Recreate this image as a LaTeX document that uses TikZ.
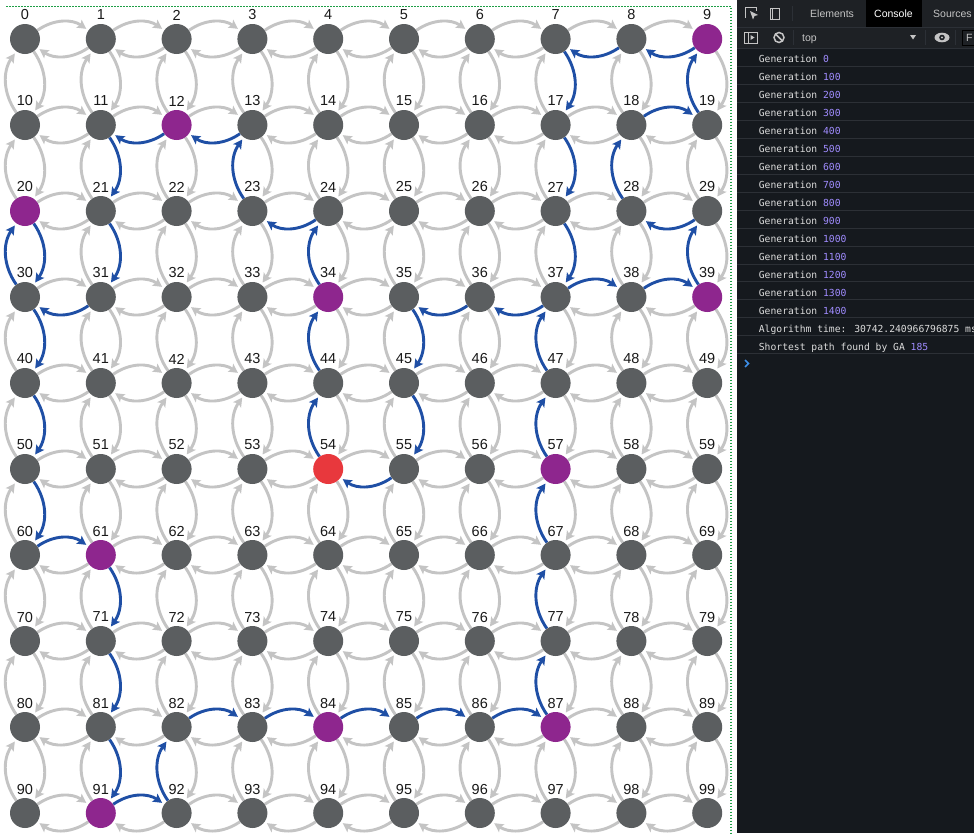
\documentclass[tikz,border=0pt]{standalone}
\usepackage{fontspec}
\setmainfont{Liberation Sans}
\newfontfamily\consolefont{DejaVu Sans Mono}
\usetikzlibrary{arrows.meta}
\pgfdeclarelayer{background}
\pgfdeclarelayer{edges}
\pgfsetlayers{background,edges,main}

\definecolor{nodegray}{HTML}{5B5E60}
\definecolor{nodepurple}{HTML}{8E268E}
\definecolor{nodered}{HTML}{E8383D}
\definecolor{arrgray}{HTML}{C4C4C4}
\definecolor{pathblue}{HTML}{1F4FA5}
\definecolor{frameGreen}{HTML}{1E9E46}
\definecolor{panelbg}{HTML}{15191E}
\definecolor{barbg}{HTML}{1E2125}
\definecolor{sepline}{HTML}{2C3036}
\definecolor{contxt}{HTML}{DCDCDC}
\definecolor{connum}{HTML}{A08CFF}
\definecolor{tabtxt}{HTML}{C4C4C4}
\definecolor{promptblue}{HTML}{3D8FE8}

\def\bluelist{55/54,45/55,35/45,36/35,37/36,47/37,57/47,67/57,77/67,87/77,86/87,85/86,84/85,83/84,82/83,92/82,91/92,81/91,71/81,61/71,60/61,50/60,40/50,30/40,20/30,30/20,31/30,21/31,11/21,12/11,13/12,23/13,24/23,34/24,44/34,54/44,27/37,17/27,7/17,8/7,9/8,19/9,18/19,28/18,29/28,39/29,38/39,37/38}

\begin{document}
\begin{tikzpicture}[x=1pt,y=-1pt,
  vtx/.style={circle,fill=nodegray,minimum size=30pt,inner sep=0pt},
  c9/.style={fill=nodepurple},c12/.style={fill=nodepurple},c20/.style={fill=nodepurple},
  c34/.style={fill=nodepurple},c39/.style={fill=nodepurple},c57/.style={fill=nodepurple},
  c61/.style={fill=nodepurple},c84/.style={fill=nodepurple},c87/.style={fill=nodepurple},
  c91/.style={fill=nodepurple},c54/.style={fill=nodered},
  lbl/.style={inner sep=0pt,font=\fontsize{14.5}{14.5}\selectfont,text=black!90},
  garr/.style={draw=arrgray,line width=2.9pt,-{Stealth[length=9pt,width=9.5pt,inset=2pt]},shorten >=2.5pt,bend left=35},
  barr/.style={garr,draw=pathblue},
  ctext/.style={anchor=base west,inner sep=0pt,text=contxt,font=\consolefont\fontsize{9.7}{10}\selectfont},
  ttext/.style={anchor=base west,inner sep=0pt,text=tabtxt,font=\fontsize{10.5}{11}\selectfont},
  icon/.style={draw=tabtxt,line width=1pt}
]
\useasboundingbox (0,0) rectangle (974,833);
\begin{pgfonlayer}{background}
\fill[white] (0,0) rectangle (974,833);
\end{pgfonlayer}

% grid nodes and labels
\foreach \r in {0,...,9}{
  \foreach \c in {0,...,9}{
    \pgfmathtruncatemacro\n{10*\r+\c}
    \pgfmathsetmacro\x{25+75.8*\c}
    \pgfmathsetmacro\y{39+86*\r}
    \node[vtx,c\n/.try] (n\n) at (\x,\y) {};
    \node[lbl] (l\n) at (\x,\y-24) {\n};
  }
}

\foreach \a/\b in \bluelist {\expandafter\gdef\csname skip\a-\b\endcsname{}}

\begin{pgfonlayer}{edges}
\foreach \r in {0,...,9}{
  \foreach \c in {0,...,9}{
    \pgfmathtruncatemacro\n{10*\r+\c}
    \pgfmathtruncatemacro\e{\n+1}
    \pgfmathtruncatemacro\s{\n+10}
    \ifnum\c<9\relax
      \ifcsname skip\n-\e\endcsname\else\draw[garr] (n\n) to (n\e);\fi
      \ifcsname skip\e-\n\endcsname\else\draw[garr] (n\e) to (n\n);\fi
    \fi
    \ifnum\r<9\relax
      \ifcsname skip\n-\s\endcsname\else\draw[garr] (n\n) to (n\s);\fi
      \ifcsname skip\s-\n\endcsname\else\draw[garr] (n\s) to (n\n);\fi
    \fi
  }
}
\foreach \a/\b in \bluelist {\draw[barr] (n\a) to (n\b);}
\end{pgfonlayer}

% frame
\draw[frameGreen,line width=1.7pt,dash pattern=on 1.5pt off 1.5pt] (6,6.5) -- (731,6.5) -- (731,833);

% console panel
\begin{scope}
\clip (737,0) rectangle (974,833);
\fill[panelbg] (737,0) rectangle (974,833);
\fill[barbg] (737,0) rectangle (974,48.5);
\draw[sepline,line width=1pt] (737,27) -- (974,27);
\fill[black] (866,0) rectangle (922,27);
% tab bar icons
\draw[icon] (745,18) -- (745,7) -- (756,7) -- (756,11);
\fill[tabtxt] (750,11) -- (758,15) -- (754.5,16) -- (753,19.5) -- cycle;
\draw[icon] (770,8) rectangle (779,19);
\draw[icon] (772,8) -- (772,19);
\draw[sepline,line width=1pt] (792,6) -- (792,21);
\node[ttext] (tabEl) at (810,17.3) {Elements};
\node[ttext,text=white] (tabCo) at (874,17.3) {Console};
\node[ttext] (tabSo) at (933,17.3) {Sources};
% toolbar
\draw[icon] (744,32) rectangle (757,43);
\draw[icon] (748,32) -- (748,43);
\fill[tabtxt] (750.5,35) -- (754.5,37.5) -- (750.5,40) -- cycle;
\draw[icon,line width=1.5pt] (779,37.5) circle (5);
\draw[icon,line width=1.5pt] (775.5,34) -- (782.5,41);
\draw[sepline,line width=1pt] (793,30) -- (793,45);
\node[ttext] (topTxt) at (802,41) {top};
\fill[tabtxt] (910,35) -- (916,35) -- (913,39.5) -- cycle;
\draw[sepline,line width=1pt] (925,30) -- (925,45);
\fill[tabtxt] (942,37.5) ellipse (7.5 and 4.8);
\fill[barbg] (942,37.5) circle (2.8);
\fill[tabtxt] (942,37.5) circle (1.2);
\draw[sepline,line width=1pt] (955,30) -- (955,45);
\draw[icon,draw=sepline!150] (962,30) rectangle (985,45);
\node[ttext] (fTxt) at (966,41) {F};
% console lines
\foreach \k in {0,...,17} {\draw[sepline,line width=0.8pt] (737,48.5+17.95*\k) -- (974,48.5+17.95*\k);}
\foreach \g [count=\i from 0] in {0,100,...,1400} {
  \node[ctext] (gen\i) at (758.7,62.8+17.95*\i) {Generation \textcolor{connum}{\g}};
}
\node[ctext] (algo) at (758.7,62.8+17.95*15) {Algorithm time: 30742.240966796875 ms};
\node[ctext] (best) at (758.7,62.8+17.95*16) {Shortest path found by GA \textcolor{connum}{185}};
\coordinate (pr) at (747,363.5);
\draw[promptblue,line width=1.5pt] ([xshift=-2pt,yshift=-3.5pt]pr) -- ([xshift=1.5pt]pr) -- ([xshift=-2pt,yshift=3.5pt]pr);
\end{scope}
\end{tikzpicture}
\end{document}
